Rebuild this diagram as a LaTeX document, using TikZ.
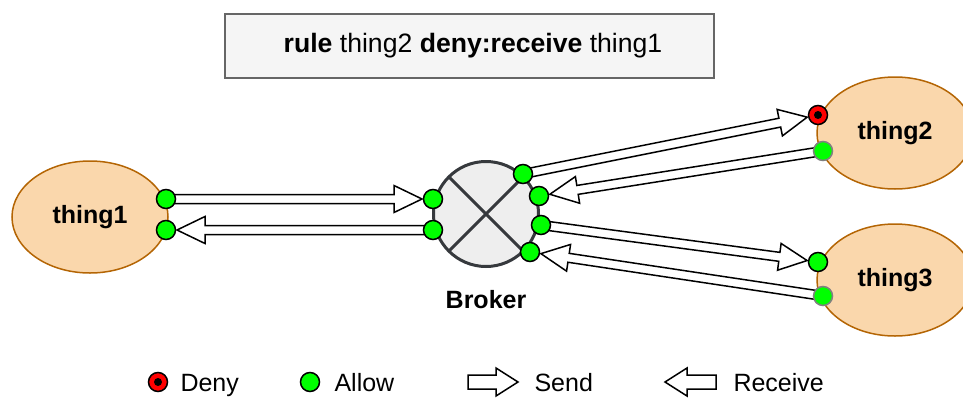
\documentclass[tikz,border=0pt]{standalone}
\usepackage{fontspec}
\setmainfont{Liberation Sans}
\usetikzlibrary{positioning,calc,shapes.geometric}
\definecolor{peach}{HTML}{FAD7AC}
\definecolor{peachline}{HTML}{B46504}
\definecolor{allowgreen}{HTML}{00FF00}
\definecolor{rulefill}{HTML}{F5F5F5}
\definecolor{ruleline}{HTML}{666666}
\definecolor{brokerfill}{HTML}{EEEEEE}
\definecolor{brokerline}{HTML}{36393D}
\pgfdeclarelayer{bg}
\pgfsetlayers{bg,main}
\newcommand{\lblfont}{\fontsize{25}{30}\selectfont}
\def\shaftw{4.5pt}\def\headw{13.5pt}\def\headl{28pt}
% block arrow from #2 to #3, tip #1 short of #3
\newcommand{\flexarr}[3][11pt]{%
  \begin{pgfonlayer}{bg}
    \path ($(#3)!#1!(#2)$) coordinate (tip) ($(tip)!\headl!(#2)$) coordinate (hd);
    \draw[flex] ($(#2)!\shaftw!90:(tip)$) -- ($(hd)!\shaftw!90:(tip)$)
      -- ($(hd)!\headw!90:(tip)$) -- (tip)
      -- ($(hd)!\headw!-90:(tip)$) -- ($(hd)!\shaftw!-90:(tip)$)
      -- ($(#2)!\shaftw!-90:(tip)$) -- cycle;
  \end{pgfonlayer}}

\begin{document}
\begin{tikzpicture}[x=1pt,y=-1pt,
  thing/.style={ellipse,draw=peachline,fill=peach,line width=1.5pt,minimum width=156pt,minimum height=112pt,font=\lblfont\bfseries},
  allow/.style={circle,draw,fill=allowgreen,line width=1.5pt,minimum size=19pt,inner sep=0pt},
  allowg/.style={allow,draw=gray},
  deny/.style={allow,fill=red,path picture={\fill[black] (path picture bounding box.center) circle (4pt);}},
  flex/.style={draw=black,fill=white,line width=1.5pt}]
\useasboundingbox (0,0) rectangle (963,399);

\node[draw=ruleline,fill=rulefill,line width=2pt,minimum width=489pt,minimum height=64pt,font=\fontsize{26.6}{32}\selectfont] (rule) at (469,46) {\hspace{8pt}\textbf{rule} thing2 \textbf{deny:receive} thing1};

\node[thing] (thing1) at (90,217) {thing1};
\node[thing] (thing2) at (895,133) {thing2};
\node[thing] (thing3) at (895,280) {thing3};

\node[circle,draw=brokerline,fill=brokerfill,line width=3pt,minimum size=105pt,outer sep=0pt] (broker) at (486,214) {};
\draw[brokerline,line width=3pt] (broker.45) -- (broker.225) (broker.135) -- (broker.-45);
\node[font=\lblfont\bfseries] (brokerlbl) at (486,300) {Broker};

% ports
\node[allow] (t1a) at (166,199) {};
\node[allow] (t1b) at (166,230) {};
\node[allow] (bl1) at (433,199) {};
\node[allow] (bl2) at (433,230) {};
\node[allow] (br1) at (523,174) {};
\node[allow] (br2) at (539,196) {};
\node[allow] (br3) at (541,225) {};
\node[allow] (br4) at (530,252) {};
\node[deny] (t2a) at (818,115) {};
\node[allowg] (t2b) at (823,151) {};
\node[allow] (t3a) at (818,262) {};
\node[allowg] (t3b) at (823,296) {};

\flexarr{t1a}{bl1}
\flexarr{bl2}{t1b}
\flexarr{br1}{t2a}
\flexarr{t2b}{br2}
\flexarr{br3}{t3a}
\flexarr{t3b}{br4}

% legend
\node[deny] (denykey) at (158,382) {};
\node[anchor=base west,font=\lblfont] (denytxt) at (177,391) {Deny};
\node[allow] (allowkey) at (310,382) {};
\node[anchor=base west,font=\lblfont] (allowtxt) at (331,391) {Allow};
\coordinate (sendA) at (468,382);
\coordinate (sendB) at (518,382);
\node[anchor=base west,font=\lblfont] (sendtxt) at (531,391) {Send};
\coordinate (recvA) at (716,382);
\coordinate (recvB) at (665,382);
\node[anchor=base west,font=\lblfont] (recvtxt) at (730,391) {Receive};
\begin{scope}
  \def\shaftw{7pt}\def\headw{14pt}\def\headl{22pt}
  \flexarr[0pt]{sendA}{sendB}
  \flexarr[0pt]{recvA}{recvB}
\end{scope}
\end{tikzpicture}
\end{document}
